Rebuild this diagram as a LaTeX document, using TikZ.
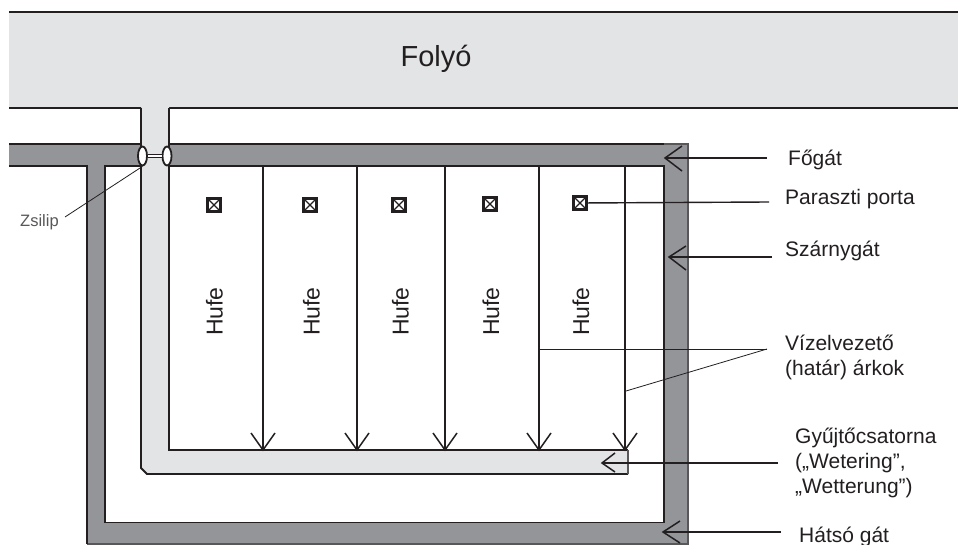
\documentclass[tikz,border=0pt]{standalone}
\usepackage{fontspec}
\setmainfont{Liberation Sans}
\usetikzlibrary{shapes.geometric}
\definecolor{water}{HTML}{E3E4E6}
\definecolor{dyke}{HTML}{939598}
\definecolor{ink}{HTML}{231F20}
\tikzset{
  outline/.style={draw=ink,line width=1.8pt},
  edgeline/.style={draw=ink!75,line width=1.3pt},
  ditch/.style={draw=ink,line width=1.4pt},
  wing/.style={draw=ink,line width=1.5pt},
  leader/.style={draw=ink,line width=.8pt},
  label/.style={anchor=base west,inner sep=0pt,font=\fontsize{21}{25}\selectfont,text=ink,align=left},
  hufe/.style={rotate=90,inner sep=0pt,font=\fontsize{23}{25}\selectfont,text=ink},
  porta/.style={draw=ink,line width=2.3pt,fill=white,minimum size=13pt,inner sep=0pt,path picture={\draw[ink,line width=1.3pt] (path picture bounding box.south west)--(path picture bounding box.north east) (path picture bounding box.north west)--(path picture bounding box.south east);}},
  sluice/.style={ellipse,draw=ink,line width=1.8pt,fill=white,minimum width=9pt,minimum height=19pt,inner sep=0pt}
}
\begin{document}
\begin{tikzpicture}[x=1pt,y=-1pt]
\useasboundingbox[fill=white] (0,0) rectangle (958,545);
% river
\fill[water] (9,12) rectangle (958,107);
\draw[outline] (9,12) -- (958,12);
\draw[outline] (9,108) -- (141,108);
\draw[outline] (169,108) -- (958,108);
% dykes
\fill[dyke] (9,144) -- (688,144) -- (688,544) -- (87,544) -- (87,166) -- (9,166) -- cycle;
\fill[white] (105,166) rectangle (664,522.5);
\draw[outline] (9,144) -- (141,144);
\draw[outline] (169,144) -- (664,144);
\draw[edgeline] (664,144) -- (688,144) -- (688,544) -- (87,544);
\draw[outline] (9,166) -- (87,166) -- (87,544);
\draw[outline] (169,166) -- (664,166) -- (664,522.5) -- (105,522.5) -- (105,166) -- (141,166);
% channel
\fill[water] (141,107) -- (141,468) -- (147,474) -- (628,474) -- (628,450) -- (169,450) -- (169,107) -- cycle;
\draw[outline] (141,108) -- (141,468) -- (147,474) -- (628,474);
\draw[outline] (169,108) -- (169,450) -- (628,450);
\draw[edgeline] (628,450) -- (628,474);
% sluices
\node[sluice] (s1) at (142.5,156) {};
\node[sluice] (s2) at (167,156) {};
\draw[ink,line width=3.6pt] (s1) -- (s2);
\draw[white,line width=1.5pt] (s1) -- (s2);
% sluice label
\node[anchor=west,inner sep=0pt,font=\fontsize{16.5}{18}\selectfont,text=ink!75] (zs) at (20,222) {Zsilip};
\coordinate (zsfrom) at (65,217);
\draw[leader] (zsfrom) -- (s1.south);
% ditches
\foreach \n/\x in {a/263,b/357,c/445,d/539,e/625}{
  \coordinate (top\n) at (\x,166);
  \coordinate (tip\n) at (\x,450);
  \draw[ditch] (top\n) -- (tip\n);
  \draw[wing] (\x-12,433) -- (tip\n) -- (\x+12,433);
}
% farmsteads
\foreach \n/\x/\y in {a/214/205,b/310/205,c/399/205,d/490/204,e/580/203}{
  \node[porta] (p\n) at (\x,\y) {};
}
% Hufe
\foreach \n/\x in {a/214.5,b/311.5,c/400.5,d/491,e/581}{
  \node[hufe] (h\n) at (\x,311.5) {Hufe};
}
% title
\node[inner sep=0pt,font=\fontsize{29}{32}\selectfont,text=ink] (folyo) at (436,59) {Folyó};
% labels
\node[label] (fogat) at (788,166) {Főgát};
\node[label] (porta) at (785,205) {Paraszti porta};
\node[label] (szarny) at (785,257) {Szárnygát};
\node[label,anchor=north west] (viz) at (785,335) {Vízelvezető\\(határ) árkok};
\node[label,anchor=north west] (gyujto) at (795,428) {Gyűjtőcsatorna\\(„Wetering”,\\„Wetterung”)};
\node[label] (hatso) at (799,542) {Hátsó gát};
% label arrows
\coordinate (t1) at (665,158); \coordinate (f1) at (767,158);
\coordinate (t2) at (669,257); \coordinate (f2) at (772,257);
\coordinate (t3) at (602,463); \coordinate (f3) at (778,463);
\coordinate (t4) at (663,532); \coordinate (f4) at (781,532);
\draw[ditch] (f1) -- (t1); \draw[wing] (682,146) -- (t1) -- (682,171);
\draw[ditch] (f2) -- (t2); \draw[wing] (686,246) -- (t2) -- (686,270);
\draw[ditch] (f3) -- (t3); \draw[wing] (615,453) -- (t3) -- (615,472);
\draw[ditch] (f4) -- (t4); \draw[wing] (680,521) -- (t4) -- (680,543);
\coordinate (f5) at (769,202);
\draw[ditch] (pe) -- (f5);
% ditch leaders
\coordinate (v0) at (767,349);
\coordinate (v1) at (539,349);
\coordinate (v2) at (626,391);
\draw[leader] (v1) -- (v0);
\draw[leader] (v2) -- (v0);
\end{tikzpicture}
\end{document}
